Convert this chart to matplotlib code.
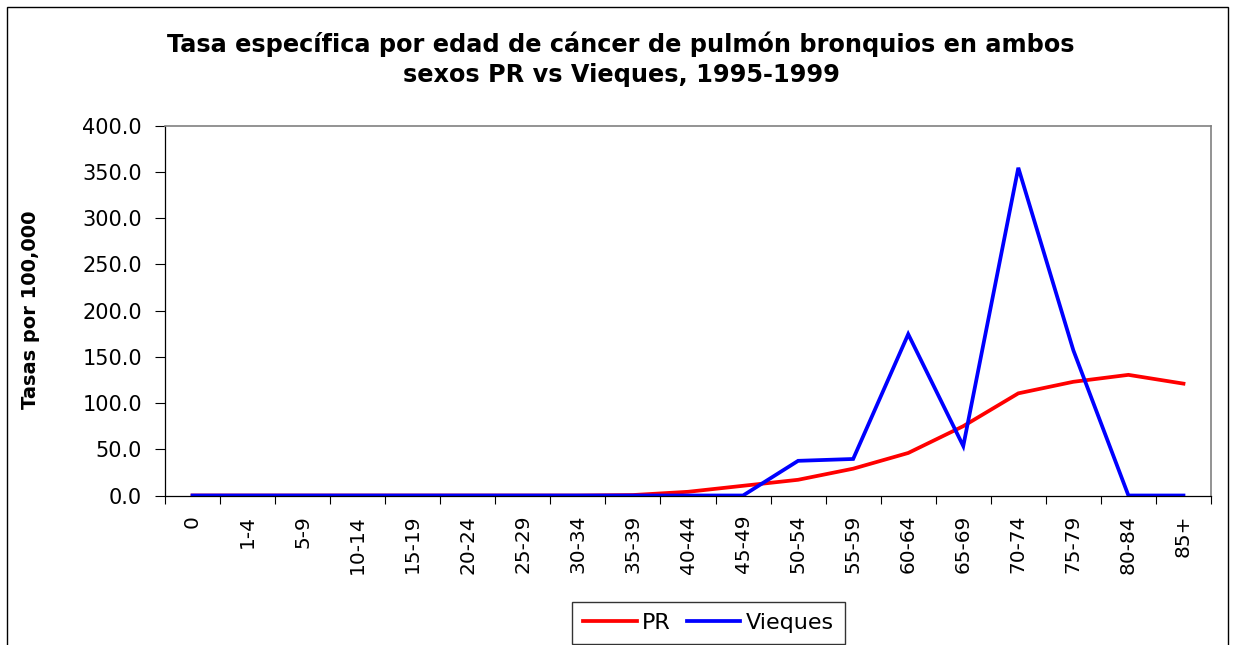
import numpy as np
import matplotlib
matplotlib.use('Agg')
import matplotlib.pyplot as plt
import matplotlib.patches as patches

plt.rcParams['font.family'] = ['DejaVu Sans']

grupos = ['0', '1-4', '5-9', '10-14', '15-19', '20-24', '25-29', '30-34',
          '35-39', '40-44', '45-49', '50-54', '55-59', '60-64', '65-69',
          '70-74', '75-79', '80-84', '85+']
pr = [0, 0, 0, 0, 0, 0, 0, 0, 0.5, 4.0, 10.5, 17.0, 29.0, 46.0, 75.0,
      110.5, 123.0, 130.5, 121.0]
vieques = [0, 0, 0, 0, 0, 0, 0, 0, 0, 0, 0, 37.5, 39.5, 174.5, 53.5,
           354.5, 157.0, 0, 0]

W, H = 1233, 645
dpi = 100.0
fig = plt.figure(figsize=(W/dpi, H/dpi), dpi=dpi, facecolor='white')

# outer chart border (runs off the bottom in the original)
fig.add_artist(patches.Rectangle((7/W, -0.05), (1228-7)/W, 1.05-7/H,
                                 transform=fig.transFigure, fill=False,
                                 edgecolor='black', lw=1.0, clip_on=False))

x0, x1 = 165, 1211
y0, y1 = 125.7, 495.5
ax = fig.add_axes([x0/W, 1-y1/H, (x1-x0)/W, (y1-y0)/H])

x = np.arange(len(grupos))
ax.plot(x, pr, color='#ff0000', lw=2.7, label='PR', solid_joinstyle='miter')
ax.plot(x, vieques, color='#0000ff', lw=2.7, label='Vieques', solid_joinstyle='miter')

ax.set_xlim(-0.5, len(grupos)-0.5)
ax.set_ylim(0, 400)

ax.set_yticks(np.arange(0, 401, 50))
ax.set_yticklabels(['%.1f' % v for v in np.arange(0, 401, 50)], fontsize=15)
ax.tick_params(axis='y', direction='out', length=7, width=0.8, pad=9.5)

# category ticks between groups, labels at centre
ax.set_xticks(np.arange(len(grupos)+1)-0.5)
ax.set_xticklabels([])
ax.tick_params(axis='x', which='major', direction='out', length=6, width=0.8)
ax.set_xticks(x, minor=True)
ax.set_xticklabels(grupos, minor=True, rotation=90, fontsize=14.5)
ax.tick_params(axis='x', which='minor', length=0, pad=14)

for s in ['left', 'bottom']:
    ax.spines[s].set_color('black')
    ax.spines[s].set_linewidth(0.9)
for s in ['top', 'right']:
    ax.spines[s].set_color('#808080')
    ax.spines[s].set_linewidth(1.2)

fig.text(621/W, 1-44/H, 'Tasa específica por edad de cáncer de pulmón bronquios en ambos',
         ha='center', va='center', fontsize=17.3, fontweight='bold')
fig.text(621/W, 1-75/H, 'sexos PR vs Vieques, 1995-1999',
         ha='center', va='center', fontsize=17.3, fontweight='bold')
fig.text(30/W, 1-310/H, 'Tasas por 100,000', rotation=90, ha='center', va='center',
         fontsize=14, fontweight='bold')

leg = ax.legend(loc='center', bbox_to_anchor=(708.5/W, 1-623/H),
                bbox_transform=fig.transFigure, ncol=2, fontsize=16,
                frameon=True, fancybox=False, handlelength=2.4,
                handletextpad=0.25, columnspacing=0.7, borderpad=0.5)
leg.get_frame().set_edgecolor('black')
leg.get_frame().set_linewidth(1.0)

fig.savefig('out.png', dpi=dpi, facecolor='white')
